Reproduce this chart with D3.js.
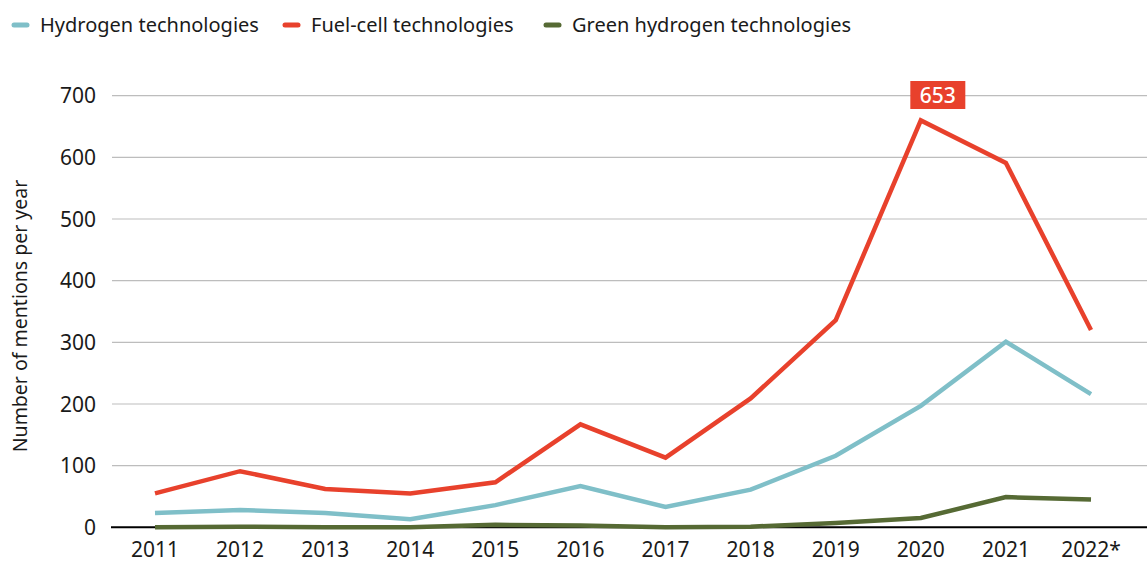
<!DOCTYPE html>
<html><head><meta charset="utf-8">
<script src="https://cdn.jsdelivr.net/npm/d3@7"></script>
<style>
body{margin:0;background:#fff;}
svg{display:block;font-family:"Noto Sans",sans-serif;}
</style></head>
<body>
<svg id="chart" width="1147" height="562"></svg>
<script>
const years = ["2011","2012","2013","2014","2015","2016","2017","2018","2019","2020","2021","2022*"];
const hydrogen = [23,28,23,13,36,67,33,61,116,197,301,216];
const fuelCell = [55,91,62,55,73,167,113,209,336,660,591,320];
const greenHydrogen = [0,1,0,0,4,3,0,1,7,15,49,45];
const yTicks = [0,100,200,300,400,500,600,700];
const seriesNames = ["Hydrogen technologies","Fuel-cell technologies","Green hydrogen technologies"];
const seriesColors = ["#7fbfc8","#e8412c","#566a34"];
const peakLabel = "653";
const peakYear = "2020";
const yTitle = "Number of mentions per year";

const svg = d3.select("#chart");
const x = d3.scalePoint().domain(years).range([155,1091]);
const y = d3.scaleLinear().domain([0,700]).range([527.3,95.7]);

// gridlines
svg.append("g").selectAll("line").data(yTicks.filter(d=>d>0)).join("line")
  .attr("x1",112).attr("x2",1147)
  .attr("y1",d=>y(d)).attr("y2",d=>y(d))
  .attr("stroke","#bdbdbd").attr("stroke-width",1.2);

// y labels
svg.append("g").selectAll("text").data(yTicks).join("text")
  .attr("x",96).attr("y",d=>y(d)).attr("dy","0.36em")
  .attr("text-anchor","end").attr("font-size",21).attr("fill","#1a1a1a")
  .text(d=>d);

// x labels
svg.append("g").selectAll("text").data(years).join("text")
  .attr("x",d=>x(d)).attr("y",557).attr("text-anchor","middle")
  .attr("font-size",21).attr("fill","#1a1a1a").text(d=>d);

// y title
svg.append("text").attr("transform","translate(27,316) rotate(-90)")
  .attr("text-anchor","middle").attr("font-size",19.5).attr("fill","#1a1a1a").text(yTitle);

// baseline
svg.append("line").attr("x1",111).attr("x2",1147).attr("y1",y(0)).attr("y2",y(0))
  .attr("stroke","#000").attr("stroke-width",2);

const line = d3.line().x((d,i)=>x(years[i])).y(d=>y(d));
const allSeries = [hydrogen,fuelCell,greenHydrogen];
[0,1,2].forEach(i=>{
  svg.append("path").datum(allSeries[i]).attr("d",line)
    .attr("fill","none").attr("stroke",seriesColors[i]).attr("stroke-width",4.5)
    .attr("stroke-linejoin","miter").attr("stroke-linecap","butt");
});

// peak annotation
const px = x(peakYear)+17;
const g = svg.append("g");
g.append("rect").attr("x",px-27.5).attr("y",81).attr("width",55).attr("height",28).attr("fill","#e8412c");
g.append("text").attr("x",px).attr("y",95).attr("dy","0.36em").attr("text-anchor","middle")
  .attr("font-size",21).attr("font-weight","500").attr("fill","#fff").text(peakLabel);

// legend
const legX = [12,283,544];
const leg = svg.append("g").selectAll("g").data(seriesNames).join("g")
  .attr("transform",(d,i)=>`translate(${legX[i]},25)`);
leg.append("line").attr("x1",2).attr("x2",15).attr("y1",0).attr("y2",0)
  .attr("stroke",(d,i)=>seriesColors[i]).attr("stroke-width",5).attr("stroke-linecap","round");
leg.append("text").attr("x",28).attr("y",0).attr("dy","0.35em")
  .attr("font-size",20).attr("fill","#1a1a1a").text(d=>d);
</script>
</body></html>
